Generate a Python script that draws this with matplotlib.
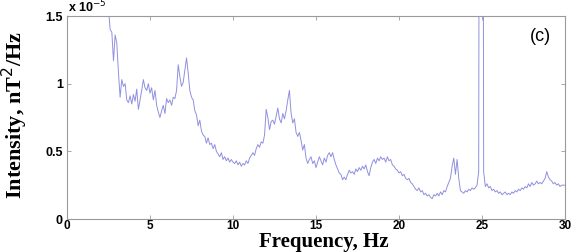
import numpy as np
import matplotlib
matplotlib.use("Agg")
import matplotlib.pyplot as plt

# Intensity (x1e-5 nT^2/Hz) sampled every 0.1 Hz from 2.5 Hz to 30.0 Hz
intensity = [
    1.55, 1.40, 1.38, 1.17, 1.36, 1.30, 1.08, 0.90, 1.03, 0.98,   # 2.5-3.4
    1.00, 0.88, 0.86, 0.91, 0.85, 0.92, 0.87, 0.96, 0.81, 0.88,   # 3.5-4.4
    0.95, 1.03, 0.97, 0.95, 1.00, 0.93, 0.97, 0.88, 0.95, 0.84,   # 4.5-5.4
    0.79, 0.75, 0.80, 0.84, 0.78, 0.89, 0.86, 0.88, 0.84, 0.90,   # 5.5-6.4
    0.89, 0.95, 1.14, 1.05, 0.98, 1.01, 1.10, 1.19, 1.08, 0.95,   # 6.5-7.4
    0.90, 0.88, 0.80, 0.77, 0.69, 0.73, 0.65, 0.62, 0.61, 0.56,   # 7.5-8.4
    0.60, 0.55, 0.56, 0.52, 0.55, 0.50, 0.48, 0.46, 0.49, 0.44,   # 8.5-9.4
    0.46, 0.43, 0.45, 0.42, 0.44, 0.42, 0.41, 0.43, 0.40, 0.42,   # 9.5-10.4
    0.39, 0.41, 0.40, 0.43, 0.41, 0.45, 0.47, 0.49, 0.47, 0.52,   # 10.5-11.4
    0.55, 0.53, 0.57, 0.56, 0.62, 0.81, 0.75, 0.66, 0.72, 0.73,   # 11.5-12.4
    0.70, 0.76, 0.82, 0.74, 0.71, 0.78, 0.74, 0.80, 0.88, 0.95,   # 12.5-13.4
    0.78, 0.71, 0.74, 0.64, 0.61, 0.64, 0.58, 0.51, 0.55, 0.45,   # 13.5-14.4
    0.41, 0.44, 0.46, 0.41, 0.43, 0.38, 0.42, 0.46, 0.43, 0.40,   # 14.5-15.4
    0.45, 0.42, 0.47, 0.49, 0.46, 0.49, 0.44, 0.40, 0.37, 0.34,   # 15.5-16.4
    0.33, 0.29, 0.31, 0.29, 0.33, 0.36, 0.34, 0.35, 0.33, 0.37,   # 16.5-17.4
    0.35, 0.38, 0.36, 0.39, 0.37, 0.40, 0.35, 0.32, 0.38, 0.42,   # 17.5-18.4
    0.44, 0.41, 0.45, 0.43, 0.46, 0.44, 0.45, 0.42, 0.46, 0.43,   # 18.5-19.4
    0.44, 0.40, 0.39, 0.37, 0.36, 0.34, 0.35, 0.32, 0.33, 0.30,   # 19.5-20.4
    0.29, 0.30, 0.27, 0.26, 0.24, 0.22, 0.21, 0.23, 0.20, 0.21,   # 20.5-21.4
    0.18, 0.19, 0.17, 0.18, 0.16, 0.15, 0.18, 0.17, 0.19, 0.17,   # 21.5-22.4
    0.20, 0.18, 0.21, 0.20, 0.24, 0.27, 0.30, 0.39, 0.45, 0.33,   # 22.5-23.4
    0.44, 0.30, 0.21, 0.20, 0.19, 0.21, 0.20, 0.22, 0.21, 0.23,   # 23.5-24.4
    0.22, 0.23, 0.25, 0.35, 8.00, 8.00, 0.35, 0.24, 0.26, 0.23,   # 24.5-25.4
    0.24, 0.21, 0.22, 0.20, 0.21, 0.19, 0.20, 0.18, 0.19, 0.20,   # 25.5-26.4
    0.18, 0.19, 0.18, 0.20, 0.19, 0.21, 0.20, 0.22, 0.21, 0.23,   # 26.5-27.4
    0.22, 0.24, 0.23, 0.26, 0.24, 0.27, 0.25, 0.26, 0.28, 0.26,   # 27.5-28.4
    0.27, 0.26, 0.28, 0.30, 0.35, 0.31, 0.29, 0.28, 0.26, 0.27,   # 28.5-29.4
    0.25, 0.26, 0.24, 0.25, 0.25, 0.25,                           # 29.5-30.0
]
f_start, f_stop = 2.5, 30.0
freq = np.linspace(f_start, f_stop, len(intensity))

x_ticks = [0, 5, 10, 15, 20, 25, 30]
y_ticks = [0, 0.5, 1, 1.5]
y_tick_labels = ["0", "0.5", "1", "1.5"]

W, H = 585, 252
fig = plt.figure(figsize=(W / 100, H / 100), dpi=100)
ax = fig.add_axes([67 / W, (H - 219) / H, 498 / W, 203 / H])

ax.plot(freq, intensity, color="#9090e0", lw=0.7)

ax.set_xlim(0, 30)
ax.set_ylim(0, 1.5)
ax.set_xticks(x_ticks)
ax.set_xticklabels([str(t) for t in x_ticks])
ax.set_yticks(y_ticks)
ax.set_yticklabels(y_tick_labels)

spine_col = "#9a9a9a"
for s in ax.spines.values():
    s.set_color(spine_col)
    s.set_linewidth(0.8)
ax.tick_params(direction="in", length=3, width=0.6, color=spine_col,
               top=True, right=True, labelsize=9, pad=3)
ax.tick_params(axis="x", labelsize=8.5, pad=1)
for lab in ax.get_xticklabels() + ax.get_yticklabels():
    lab.set_fontweight("bold")
    lab.set_family("Liberation Sans")

fig.text(324 / W, 1 - 246.5 / H, "Frequency, Hz", fontsize=15, fontweight="bold",
         family="Liberation Serif", ha="center", va="baseline")
fig.text(15 / W, 1 - 115 / H, "Intensity, nT$^2$/Hz", fontsize=16,
         fontweight="bold", family="Liberation Serif", rotation=90,
         ha="center", va="center")

fig.text(68 / W, 1 - 7 / H, "x 10$^{-5}$", fontsize=9, fontweight="bold",
         family="Liberation Sans", va="center", ha="left")
ax.text(0.95, 0.9, "(c)", transform=ax.transAxes, fontsize=13,
        family="Liberation Sans", ha="center", va="center")

fig.savefig("out.png", dpi=100)
